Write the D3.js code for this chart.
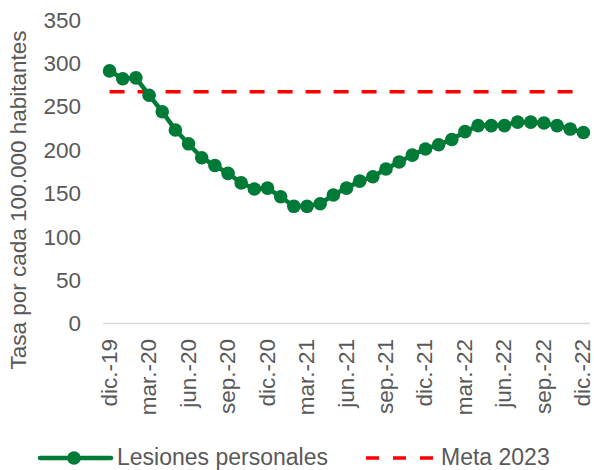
<!DOCTYPE html>
<html><head><meta charset="utf-8">
<script src="https://cdn.jsdelivr.net/npm/d3@7"></script>
<style>body{margin:0;background:#fff}svg{display:block;font-family:"Liberation Sans",Arial,sans-serif}</style>
</head><body><svg id="c" width="594" height="470"></svg>
<script>
const months = ["dic.-19","ene.-20","feb.-20","mar.-20","abr.-20","may.-20","jun.-20","jul.-20","ago.-20","sep.-20","oct.-20","nov.-20","dic.-20","ene.-21","feb.-21","mar.-21","abr.-21","may.-21","jun.-21","jul.-21","ago.-21","sep.-21","oct.-21","nov.-21","dic.-21","ene.-22","feb.-22","mar.-22","abr.-22","may.-22","jun.-22","jul.-22","ago.-22","sep.-22","oct.-22","nov.-22","dic.-22"];
const lesiones = [291,282,283,263,244,223,207,191,182,173,162,155,156,146,135,135,138,148,156,164,169,178,186,194,201,206,212,221,228,228,228,232,232,231,228,224,220];
const meta2023 = 267;
const yTicks = [0,50,100,150,200,250,300,350];
const seriesNames = ["Lesiones personales","Meta 2023"];

const svg = d3.select("#c");
const green = "#007A37", red = "#FF0000", grey = "#595959";
const fs = 22.5;
const x = d3.scaleBand().domain(months).range([103,590]);
const y = d3.scaleLinear().domain([0,350]).range([323.5,19.7]);
const cx = d => x(d) + x.bandwidth()/2;

// y axis labels
svg.append("g").selectAll("text").data(yTicks).join("text")
  .attr("x",81).attr("y",d=>y(d)).attr("dy","0.35em").attr("text-anchor","end")
  .attr("font-size",fs).attr("fill",grey).text(d=>d);

// x axis line
svg.append("line").attr("x1",103).attr("x2",590).attr("y1",y(0)).attr("y2",y(0))
  .attr("stroke","#d9d9d9").attr("stroke-width",1.5);

// x labels every 3 months
svg.append("g").selectAll("text").data(months.filter((d,i)=>i%3===0)).join("text")
  .attr("transform",d=>`translate(${cx(d)+7},339) rotate(-90)`)
  .attr("text-anchor","end").attr("font-size",fs).attr("fill",grey).text(d=>d);

// y title
svg.append("text").attr("transform","translate(26,200) rotate(-90)")
  .attr("text-anchor","middle").attr("font-size",fs).attr("fill",grey)
  .text("Tasa por cada 100.000 habitantes");

// meta line
svg.append("line").attr("x1",cx(months[0])).attr("x2",cx(months[months.length-1]))
  .attr("y1",y(meta2023)).attr("y2",y(meta2023))
  .attr("stroke",red).attr("stroke-width",3.5).attr("stroke-dasharray","15,13");

// series line
svg.append("path").datum(lesiones)
  .attr("d",d3.line().x((d,i)=>cx(months[i])).y(d=>y(d)))
  .attr("fill","none").attr("stroke",green).attr("stroke-width",4.5);
svg.append("g").selectAll("circle").data(lesiones).join("circle")
  .attr("cx",(d,i)=>cx(months[i])).attr("cy",d=>y(d)).attr("r",6.8).attr("fill",green);

// legend
const ly = 458;
svg.append("line").attr("x1",40).attr("x2",111).attr("y1",ly).attr("y2",ly)
  .attr("stroke",green).attr("stroke-width",4.5).attr("stroke-linecap","round");
svg.append("circle").attr("cx",74).attr("cy",ly).attr("r",6.8).attr("fill",green);
svg.append("text").attr("x",117).attr("y",465).attr("font-size",23).attr("fill",grey).text(seriesNames[0]);
svg.append("line").attr("x1",366).attr("x2",433).attr("y1",ly).attr("y2",ly)
  .attr("stroke",red).attr("stroke-width",3.5).attr("stroke-dasharray","13,14");
svg.append("text").attr("x",441).attr("y",465).attr("font-size",23).attr("fill",grey).text(seriesNames[1]);
</script></body></html>
